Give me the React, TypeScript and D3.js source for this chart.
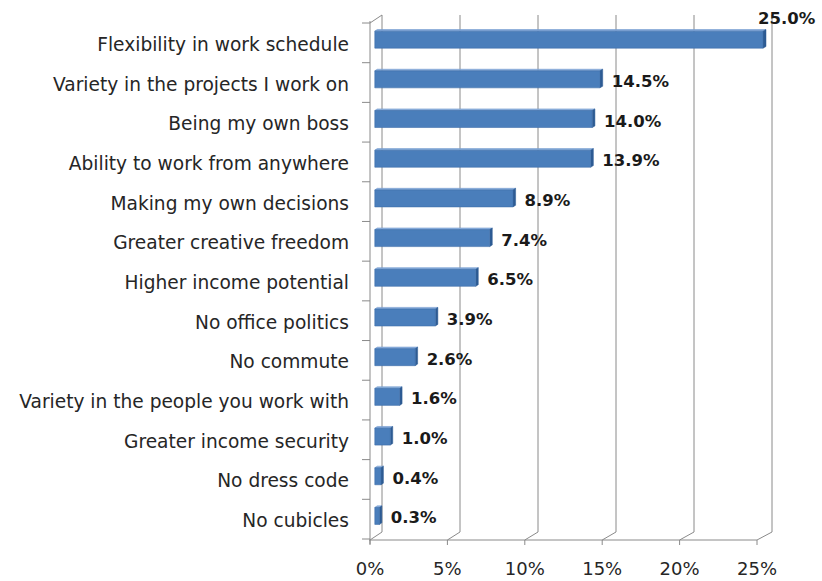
import React from "react";
import * as d3 from "d3";

const categories = [
  "Flexibility in work schedule",
  "Variety in the projects I work on",
  "Being my own boss",
  "Ability to work from anywhere",
  "Making my own decisions",
  "Greater creative freedom",
  "Higher income potential",
  "No office politics",
  "No commute",
  "Variety in the people you work with",
  "Greater income security",
  "No dress code",
  "No cubicles",
];
const values = [25.0, 14.5, 14.0, 13.9, 8.9, 7.4, 6.5, 3.9, 2.6, 1.6, 1.0, 0.4, 0.3];
const tickValues = [0, 5, 10, 15, 20, 25];
const tickLabels = ["0%", "5%", "10%", "15%", "20%", "25%"];

const W = 822;
const H = 581;

export default function App() {
  const xFront = d3.scaleLinear().domain([0, 25]).range([370, 757]);
  const xBack = d3.scaleLinear().domain([0, 25]).range([382, 772]);
  const yBand = d3.scaleBand<string>().domain(categories).range([23, 539]).padding(0);
  const depthDy = -8;
  const floorY = 540;
  const backTop = 15;

  const proj = (v: number, y: number, z: number): [number, number] => [
    xFront(v) + z * (xBack(v) - xFront(v)),
    y + z * depthDy,
  ];
  const pts = (p: [number, number][]) => p.map((q) => q.join(",")).join(" ");

  const grid = "#8a8a8a";
  const zF = 0.4;
  const zB = 0.6;
  const halfH = 8.5;

  return (
    <svg width={W} height={H} style={{ position: "absolute", left: 0, top: 0, background: "#fff" }}>
      {tickValues.map((t) => (
        <line key={"g" + t} x1={xBack(t)} x2={xBack(t)} y1={backTop} y2={floorY + depthDy} stroke={grid} strokeWidth={1} />
      ))}
      {tickValues.map((t) => (
        <line key={"d" + t} x1={xFront(t)} y1={floorY} x2={xBack(t)} y2={floorY + depthDy} stroke={grid} strokeWidth={1} />
      ))}
      <line x1={xFront(0)} y1={backTop - depthDy} x2={xBack(0)} y2={backTop} stroke={grid} />
      <line x1={xFront(0)} x2={xFront(0)} y1={backTop - depthDy - 2} y2={floorY + 4} stroke={grid} />
      {d3.range(categories.length + 1).map((i) => {
        const y = 23 + i * yBand.step();
        return <line key={"ct" + i} x1={xFront(0) - 8} x2={xFront(0)} y1={y} y2={y} stroke={grid} />;
      })}
      <line x1={xFront(0) - 1} x2={xFront(25)} y1={floorY} y2={floorY} stroke={grid} />
      {tickValues.map((t) => (
        <line key={"ft" + t} x1={xFront(t)} x2={xFront(t)} y1={floorY} y2={floorY + 5} stroke={grid} />
      ))}

      {categories.map((c, i) => {
        const v = values[i];
        const yc = (yBand(c) as number) + yBand.bandwidth() / 2;
        const f0 = proj(0, yc - halfH, zF);
        const f1 = proj(v, yc - halfH, zF);
        const f2 = proj(v, yc + halfH, zF);
        const f3 = proj(0, yc + halfH, zF);
        const b0 = proj(0, yc - halfH, zB);
        const b1 = proj(v, yc - halfH, zB);
        const b2 = proj(v, yc + halfH, zB);
        return (
          <g key={c}>
            <polygon points={pts([f0, b0, b1, f1])} fill="#8fb2de" stroke="#6f97cc" strokeWidth={0.6} />
            <polygon points={pts([f1, b1, b2, f2])} fill="#2d5b93" stroke="#2d5b93" strokeWidth={0.5} />
            <polygon points={pts([f0, f1, f2, f3])} fill="#4a7ebb" stroke="#3f6fa9" strokeWidth={0.6} />
          </g>
        );
      })}

      {categories.map((c, i) => {
        const v = values[i];
        const yc = (yBand(c) as number) + yBand.bandwidth() / 2;
        const ey = proj(v, yc, zF)[1];
        const endX = proj(v, yc, zB)[0];
        const fits = endX + 9 + 58 < W;
        return (
          <text
            key={"v" + c}
            x={fits ? endX + 9 : endX - 8}
            y={fits ? ey + 7.5 : ey - halfH - 7}
            fontFamily="DejaVu Sans"
            fontWeight="bold"
            fontSize={16.5}
            fill="#1a1a1a"
          >
            {v.toFixed(1) + "%"}
          </text>
        );
      })}

      {categories.map((c) => (
        <text
          key={"l" + c}
          x={349}
          y={(yBand(c) as number) + yBand.bandwidth() / 2 + 8}
          textAnchor="end"
          fontFamily="DejaVu Sans"
          fontSize={18.6}
          fill="#262626"
        >
          {c}
        </text>
      ))}

      {tickValues.map((t, i) => (
        <text key={"x" + t} x={xFront(t)} y={575} textAnchor="middle" fontFamily="DejaVu Sans" fontSize={18} fill="#262626">
          {tickLabels[i]}
        </text>
      ))}
    </svg>
  );
}
